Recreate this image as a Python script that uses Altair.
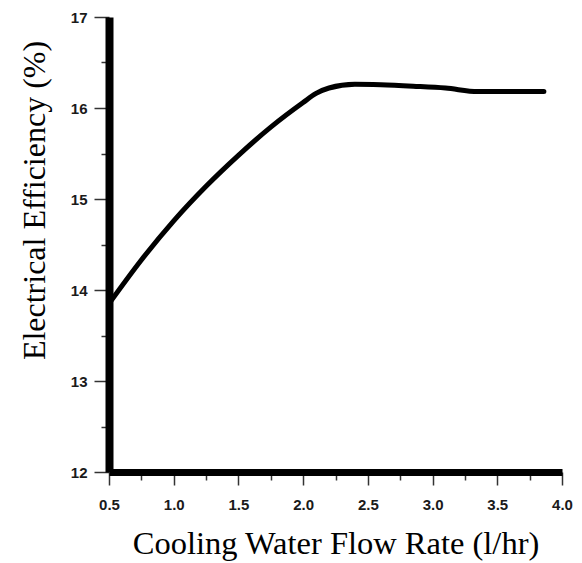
import altair as alt
import pandas as pd

flow_rate = [0.5, 0.75, 1.0, 1.25, 1.5, 1.75, 2.0, 2.1, 2.2, 2.4, 2.6, 2.85, 3.1, 3.35, 3.6, 3.86]
efficiency = [13.85, 14.33, 14.76, 15.14, 15.48, 15.79, 16.06, 16.16, 16.22, 16.26, 16.255, 16.24, 16.22, 16.18, 16.18, 16.18]

x_ticks = [0.5, 0.75, 1.0, 1.25, 1.5, 1.75, 2.0, 2.25, 2.5, 2.75, 3.0, 3.25, 3.5, 3.75, 4.0]
y_ticks = [12, 12.5, 13, 13.5, 14, 14.5, 15, 15.5, 16, 16.5, 17]

df = pd.DataFrame({"flow": flow_rate, "eff": efficiency})

x_axis = alt.Axis(
    values=x_ticks,
    title="Cooling Water Flow Rate (l/hr)",
    titleFont="Liberation Serif", titleFontSize=32.5, titleFontWeight="normal",
    titleColor="black", titleY=81, titleBaseline="alphabetic",
    labelFont="Liberation Sans", labelFontSize=15, labelFontWeight="bold", labelColor="#1a1a1a",
    labelExpr="datum.value % 0.5 === 0 ? format(datum.value, '.1f') : ''",
    labelOverlap=False, labelPadding=12, labelFlush=False,
    domainColor="black", domainWidth=7,
    tickColor="#333", tickWidth=1.5,
    tickSize={"condition": {"test": "datum.value % 0.5 === 0", "value": 13}, "value": 8},
    grid=False,
)

y_axis = alt.Axis(
    values=y_ticks,
    title="Electrical Efficiency (%)",
    titleFont="Liberation Serif", titleFontSize=32, titleFontWeight="normal",
    titleColor="black", titleX=-75, titleY=183, titleBaseline="middle", titleAlign="center",
    labelFont="Liberation Sans", labelFontSize=15, labelFontWeight="bold", labelColor="#1a1a1a",
    labelExpr="datum.value % 1 === 0 ? format(datum.value, 'd') : ''",
    labelOverlap=False, labelPadding=7, labelFlush=False,
    domainColor="black", domainWidth=8,
    tickColor="#333", tickWidth=1.5,
    tickSize={"condition": {"test": "datum.value % 1 === 0", "value": 15}, "value": 8},
    grid=False,
)

chart = alt.Chart(df).mark_line(
    color="black", strokeWidth=5, interpolate="monotone", strokeCap="round"
).encode(
    x=alt.X("flow:Q", scale=alt.Scale(domain=[0.5, 4.0], nice=False, zero=False), axis=x_axis),
    y=alt.Y("eff:Q", scale=alt.Scale(domain=[12, 17], nice=False, zero=False), axis=y_axis),
).properties(
    width=453, height=455,
    autosize=alt.AutoSizeParams(type="none"),
    padding={"left": 101, "top": 9, "right": 12, "bottom": 91},
).configure_view(stroke=None)

chart.save("out.html", embed_options={"renderer": "svg", "actions": False})
